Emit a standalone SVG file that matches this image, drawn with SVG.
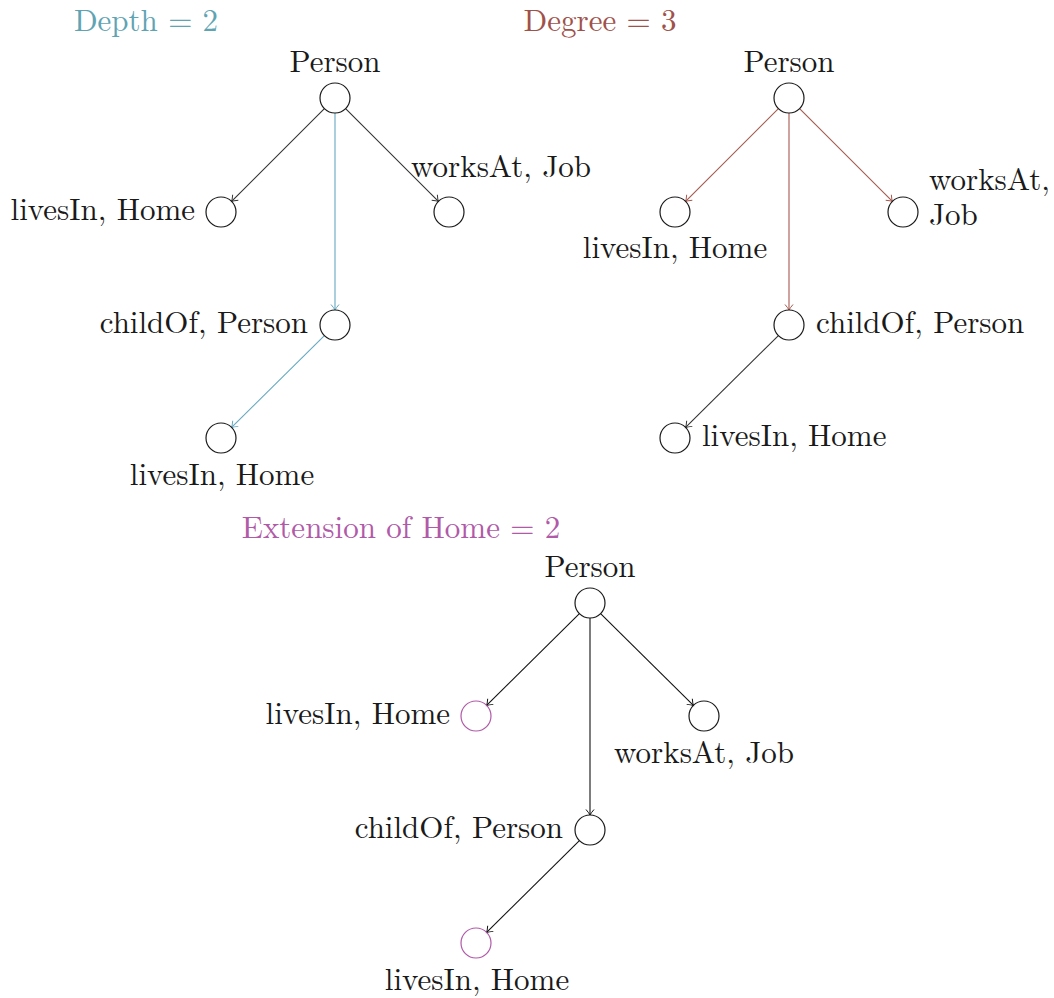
<svg xmlns="http://www.w3.org/2000/svg" width="1054" height="998" viewBox="0 0 1054 998" font-family="'Latin Modern Roman', 'Liberation Serif', 'DejaVu Serif', serif">
  <style>
    text { font-family: "Latin Modern Roman", "Liberation Serif", "DejaVu Serif", serif; font-size: 31px; fill: #1a1a1a; }
    .node { fill: none; stroke: #1a1a1a; stroke-width: 1.2; }
    .node.ext { stroke: #b05aa8; }
    .edge { fill: none; stroke-width: 1.1; }
    .dark { stroke: #333333; marker-end: url(#arrDark); }
    .blue { stroke: #65a8c0; marker-end: url(#arrBlue); }
    .red { stroke: #a8584e; marker-end: url(#arrRed); }
    .black { stroke: #111; marker-end: url(#arrBlack); }
    .t-depth { fill: #5fa4b3; }
    .t-degree { fill: #a0524a; }
    .t-ext { fill: #b05aa8; }
  </style>
  <defs>
    <marker id="arrDark" markerUnits="userSpaceOnUse" markerWidth="12" markerHeight="12" viewBox="-7 -6 8 12" refX="0" refY="0" orient="auto">
      <path d="M -5.5 -4 Q -2 -1 0 0 Q -2 1 -5.5 4" fill="none" stroke="#333333" stroke-width="1"/>
    </marker>
    <marker id="arrBlue" markerUnits="userSpaceOnUse" markerWidth="12" markerHeight="12" viewBox="-7 -6 8 12" refX="0" refY="0" orient="auto">
      <path d="M -5.5 -4 Q -2 -1 0 0 Q -2 1 -5.5 4" fill="none" stroke="#65a8c0" stroke-width="1"/>
    </marker>
    <marker id="arrRed" markerUnits="userSpaceOnUse" markerWidth="12" markerHeight="12" viewBox="-7 -6 8 12" refX="0" refY="0" orient="auto">
      <path d="M -5.5 -4 Q -2 -1 0 0 Q -2 1 -5.5 4" fill="none" stroke="#a8584e" stroke-width="1"/>
    </marker>
    <marker id="arrBlack" markerUnits="userSpaceOnUse" markerWidth="12" markerHeight="12" viewBox="-7 -6 8 12" refX="0" refY="0" orient="auto">
      <path d="M -5.5 -4 Q -2 -1 0 0 Q -2 1 -5.5 4" fill="none" stroke="#111" stroke-width="1"/>
    </marker>
  </defs>

  <rect width="1054" height="998" fill="#ffffff"/>

  <!-- Titles -->
  <g id="titles">
    <text class="t-depth" x="146" y="31" text-anchor="middle">Depth = 2</text>
    <text class="t-degree" x="600" y="31" text-anchor="middle">Degree = 3</text>
    <text class="t-ext" x="401" y="538" text-anchor="middle">Extension of Home = 2</text>
  </g>

  <!-- Connectors -->
  <g id="connectors">
    <!-- depth tree -->
    <line class="edge dark" x1="324.4" y1="108.6" x2="231.6" y2="201.4"/>
    <line class="edge dark" x1="345.6" y1="108.6" x2="438.4" y2="201.4"/>
    <line class="edge blue" x1="335" y1="113" x2="335" y2="310"/>
    <line class="edge blue" x1="324.4" y1="335.6" x2="231.6" y2="427.4"/>
    <!-- degree tree -->
    <line class="edge red" x1="778.4" y1="108.6" x2="685.6" y2="201.4"/>
    <line class="edge red" x1="799.6" y1="108.6" x2="892.4" y2="201.4"/>
    <line class="edge red" x1="789" y1="113" x2="789" y2="310"/>
    <line class="edge dark" x1="778.4" y1="335.6" x2="685.6" y2="427.4"/>
    <!-- extension tree -->
    <line class="edge black" x1="579.4" y1="613.6" x2="486.6" y2="705.4"/>
    <line class="edge black" x1="600.6" y1="613.6" x2="693.4" y2="705.4"/>
    <line class="edge black" x1="590" y1="618" x2="590" y2="815"/>
    <line class="edge black" x1="579.4" y1="840.6" x2="486.6" y2="932.4"/>
  </g>

  <!-- Depth tree -->
  <g id="d-person">
    <circle class="node" cx="335" cy="98" r="15"/>
    <text x="335" y="72" text-anchor="middle">Person</text>
  </g>
  <g id="d-lives">
    <circle class="node" cx="221" cy="212" r="15"/>
    <text x="195" y="220" text-anchor="end">livesIn, Home</text>
  </g>
  <g id="d-works">
    <circle class="node" cx="449" cy="212" r="15"/>
    <text x="501" y="177" text-anchor="middle">worksAt, Job</text>
  </g>
  <g id="d-child">
    <circle class="node" cx="335" cy="325" r="15"/>
    <text x="308" y="333" text-anchor="end">childOf, Person</text>
  </g>
  <g id="d-leaf">
    <circle class="node" cx="221" cy="438" r="15"/>
    <text x="222" y="485" text-anchor="middle">livesIn, Home</text>
  </g>

  <!-- Degree tree -->
  <g id="g-person">
    <circle class="node" cx="789" cy="98" r="15"/>
    <text x="789" y="72" text-anchor="middle">Person</text>
  </g>
  <g id="g-lives">
    <circle class="node" cx="675" cy="212" r="15"/>
    <text x="675" y="258" text-anchor="middle">livesIn, Home</text>
  </g>
  <g id="g-works">
    <circle class="node" cx="903" cy="212" r="15"/>
    <text x="929" y="190">worksAt,<tspan x="929" dy="35">Job</tspan></text>
  </g>
  <g id="g-child">
    <circle class="node" cx="789" cy="325" r="15"/>
    <text x="816" y="333">childOf, Person</text>
  </g>
  <g id="g-leaf">
    <circle class="node" cx="675" cy="438" r="15"/>
    <text x="702" y="446">livesIn, Home</text>
  </g>

  <!-- Extension tree -->
  <g id="e-person">
    <circle class="node" cx="590" cy="603" r="15"/>
    <text x="590" y="577" text-anchor="middle">Person</text>
  </g>
  <g id="e-lives">
    <circle class="node ext" cx="476" cy="716" r="15"/>
    <text x="450" y="724" text-anchor="end">livesIn, Home</text>
  </g>
  <g id="e-works">
    <circle class="node" cx="704" cy="716" r="15"/>
    <text x="704" y="763" text-anchor="middle">worksAt, Job</text>
  </g>
  <g id="e-child">
    <circle class="node" cx="590" cy="830" r="15"/>
    <text x="563" y="838" text-anchor="end">childOf, Person</text>
  </g>
  <g id="e-leaf">
    <circle class="node ext" cx="476" cy="943" r="15"/>
    <text x="477" y="990" text-anchor="middle">livesIn, Home</text>
  </g>
</svg>
